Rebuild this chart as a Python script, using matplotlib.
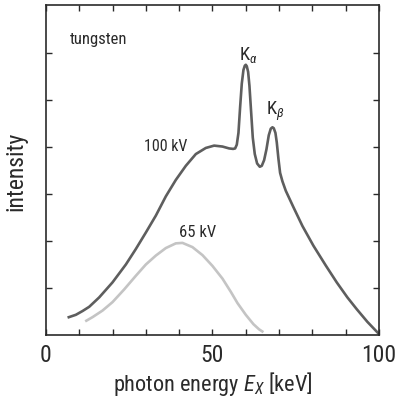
import matplotlib
matplotlib.use("Agg")
import matplotlib.pyplot as plt
from matplotlib import font_manager

# spectrum at 100 kV (with K lines)
e_100 = [6.5, 9, 11, 13, 16, 20, 24, 27, 30, 33, 36, 39, 42, 45, 48, 50.5, 53, 55, 56.2,
         56.8, 57.3, 57.8, 58.3, 58.8, 59.3, 59.7, 60.0, 60.3, 60.7, 61.1, 61.6, 62.1,
         62.7, 63.4, 64.2, 64.8, 65.5, 66.2, 66.9, 67.5, 68.0, 68.4, 68.9, 69.3, 69.8,
         70.3, 71.0, 72.0, 74.3, 77.0, 80.3, 84.0, 87.3, 90.5, 93.3, 96.5, 100.0]
i_100 = [0.37, 0.43, 0.51, 0.60, 0.80, 1.12, 1.50, 1.83, 2.18, 2.54, 2.95, 3.30, 3.60,
         3.85, 3.98, 4.03, 4.01, 3.97, 3.96,
         3.97, 4.05, 4.30, 4.85, 5.35, 5.64, 5.73, 5.75, 5.72, 5.60, 5.30, 4.75, 4.20,
         3.85, 3.65, 3.58, 3.60, 3.72, 3.95, 4.25, 4.39, 4.42, 4.40, 4.30, 4.10, 3.75,
         3.45, 3.27, 3.07, 2.72, 2.32, 1.90, 1.48, 1.12, 0.80, 0.55, 0.28, 0.02]

# spectrum at 65 kV
e_65 = [11.8, 14, 17, 20, 23.5, 27, 30, 33, 36, 39, 41, 44, 47, 50, 53, 55.5, 57.5,
        60, 62.3, 64, 65.3]
i_65 = [0.29, 0.38, 0.52, 0.70, 0.97, 1.26, 1.50, 1.69, 1.85, 1.95, 1.96, 1.87, 1.70,
        1.47, 1.20, 0.92, 0.68, 0.43, 0.23, 0.12, 0.06]

x_ticks = list(range(0, 101, 10))
x_labels = ["0", "", "", "", "", "50", "", "", "", "", "100"]
y_ticks = [1, 2, 3, 4, 5, 6]

# pick a narrow font if one is installed
names = {f.name for f in font_manager.fontManager.ttflist}
font = "DejaVu Sans"
stretch = "condensed"
for cand in ["Liberation Sans Narrow", "Roboto Condensed", "Open Sans Condensed",
             "Noto Sans Display", "Roboto"]:
    if cand in names:
        font = cand
        stretch = "normal"
        break

plt.rcParams["font.family"] = [font, "DejaVu Sans"]
plt.rcParams["font.stretch"] = stretch
plt.rcParams["mathtext.fontset"] = "custom"
plt.rcParams["mathtext.rm"] = font
plt.rcParams["mathtext.it"] = font + ":italic"

dark = "#5e5e5e"
light = "#c4c4c4"
txt = "#2a2a2a"

fig = plt.figure(figsize=(3.99, 4.06), dpi=100)
ax = fig.add_axes([0.115, 0.1724, 0.835, 0.8126])

ax.plot(e_100, i_100, color=dark, lw=1.9, solid_capstyle="butt")
ax.plot(e_65, i_65, color=light, lw=1.9, solid_capstyle="butt")

ax.set_xlim(0, 100)
ax.set_ylim(0, 7.02)
ax.set_xticks(x_ticks, labels=x_labels)
ax.set_yticks(y_ticks, labels=[])
ax.tick_params(direction="in", length=4, width=1, top=True, right=True,
               labelsize=17, colors=txt, pad=6)
for s in ax.spines.values():
    s.set_linewidth(1.2)
    s.set_color(txt)

ax.set_xlabel("photon energy $E_X$ [keV]", fontsize=16, color=txt, labelpad=2)
ax.set_ylabel("intensity", fontsize=17, color=txt, labelpad=7)

ax.text(7.2, 6.3, "tungsten", fontsize=12, ha="left", va="center", color=txt)
ax.text(42.6, 4.04, "100 kV", fontsize=11.5, ha="right", va="center", color=txt)
ax.text(45.5, 2.2, "65 kV", fontsize=12, ha="center", va="center", color=txt)
ax.text(60.8, 5.98, r"K$_\alpha$", fontsize=13.5, ha="center", va="center", color=txt)
ax.text(68.9, 4.78, r"K$_\beta$", fontsize=13.5, ha="center", va="center", color=txt)

fig.savefig("out.png", dpi=100)
